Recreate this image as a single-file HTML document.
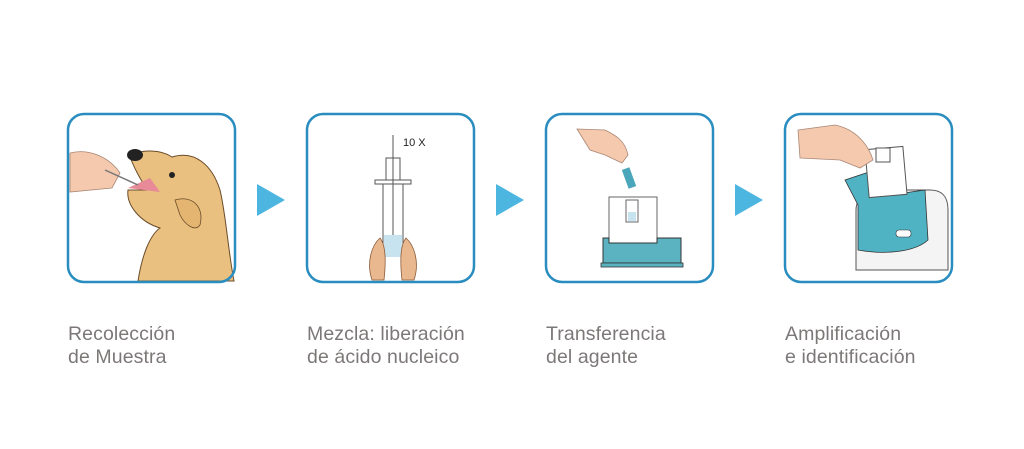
<!DOCTYPE html>
<html><head><meta charset="utf-8"><style>
body{margin:0;background:#fff;width:1024px;height:449px;overflow:hidden;font-family:"Liberation Sans",sans-serif}
.l{position:absolute;color:#7d7878;font-size:19.5px;line-height:23px;letter-spacing:0.1px}
</style></head><body>
<svg width="1024" height="449" style="position:absolute;left:0;top:0">
<!-- dog -->
<path d="M138,281 C142,255 150,235 160,228 C140,222 126,205 128,190 L148,190 C140,180 133,165 130,157 C140,148 162,150 172,157 C195,150 212,165 220,190 C226,215 228,250 234,281 Z" fill="#e9c07f" stroke="#6b4c2a" stroke-width="1"/>
<path d="M175,200 C190,195 205,205 200,225 C195,232 185,225 180,215 Z" fill="#e3b571" stroke="#6b4c2a" stroke-width="0.8"/>
<ellipse cx="135" cy="155" rx="8" ry="6" fill="#222"/>
<circle cx="172" cy="175" r="3" fill="#222"/>
<path d="M128,188 L160,192 L150,178 Z" fill="#e88a98"/>
<path d="M70,153 C90,148 110,158 120,173 L112,188 L70,192 Z" fill="#f4c9ad" stroke="#a87" stroke-width="0.8"/>
<line x1="105" y1="170" x2="138" y2="185" stroke="#777" stroke-width="1.5"/>
<!-- tube -->
<g stroke="#555" stroke-width="1" fill="#fff">
<rect x="386" y="158" width="14" height="24"/>
<rect x="375" y="180" width="36" height="4"/>
<rect x="383" y="184" width="20" height="70"/>
<line x1="393" y1="135" x2="393" y2="240"/>
</g>
<rect x="384" y="235" width="18" height="22" fill="#c8e3f0"/>
<path d="M372,280 C366,262 372,245 380,238 C386,245 386,262 384,280 Z M414,280 C420,262 414,245 406,238 C400,245 400,262 402,280 Z" fill="#eab88f" stroke="#8a5b3a" stroke-width="0.8"/>
<text x="403" y="146" font-size="11" fill="#222" font-family="Liberation Sans">10 X</text>
<!-- panel 3 -->
<rect x="609" y="197" width="48" height="46" fill="#fff" stroke="#666"/>
<rect x="626" y="200" width="12" height="22" fill="#fff" stroke="#666"/>
<rect x="628" y="212" width="8" height="9" fill="#c8e3f0"/>
<path d="M603,238 L609,238 L609,243 L657,243 L657,238 L681,238 L681,263 L603,263 Z" fill="#5bb3c2" stroke="#333" stroke-width="1"/>
<rect x="601" y="263" width="82" height="4" fill="#5bb3c2" stroke="#333" stroke-width="0.8"/>
<path d="M577,129 L605,130 C615,135 625,140 628,155 L622,163 L605,155 L590,150 Z" fill="#f4c9ad" stroke="#a87" stroke-width="0.8"/>
<rect x="625" y="168" width="8" height="20" fill="#4aa6bb" transform="rotate(-20 629 178)"/>
<!-- panel 4 -->
<path d="M856,270 L856,210 C856,195 870,190 890,190 L930,190 C945,190 948,200 948,210 L948,270 Z" fill="#f4f4f4" stroke="#555"/>
<path d="M858,250 L858,205 L845,180 L875,170 L890,195 L925,190 L928,240 C915,252 885,255 858,250 Z" fill="#4fb3c4" stroke="#333" stroke-width="0.8"/>
<rect x="867" y="148" width="38" height="48" fill="#fff" stroke="#555" transform="rotate(-5 886 172)"/>
<rect x="876" y="148" width="14" height="14" fill="#fff" stroke="#555"/>
<rect x="896" y="230" width="15" height="7" rx="3" fill="#fff" stroke="#333" stroke-width="0.6"/>
<path d="M798,130 L835,125 C860,130 870,150 873,160 L860,168 L840,160 L800,158 Z" fill="#f4c9ad" stroke="#a87" stroke-width="0.8"/>
<g fill="none" stroke="#2a8dbf" stroke-width="2.5">
<rect x="68" y="114" width="167" height="168" rx="16"/>
<rect x="307" y="114" width="167" height="168" rx="16"/>
<rect x="546" y="114" width="167" height="168" rx="16"/>
<rect x="785" y="114" width="167" height="168" rx="16"/>
</g>
<g fill="#4db6e0">
<polygon points="257,184 285,200 257,216"/>
<polygon points="496,184 524,200 496,216"/>
<polygon points="735,184 763,200 735,216"/>
</g>
</svg>
<div class="l" style="left:68px;top:323px">Recolección<br>de Muestra</div>
<div class="l" style="left:307px;top:323px">Mezcla: liberación<br>de ácido nucleico</div>
<div class="l" style="left:546px;top:323px">Transferencia<br>del agente</div>
<div class="l" style="left:785px;top:323px">Amplificación<br>e identificación</div>
</body></html>
